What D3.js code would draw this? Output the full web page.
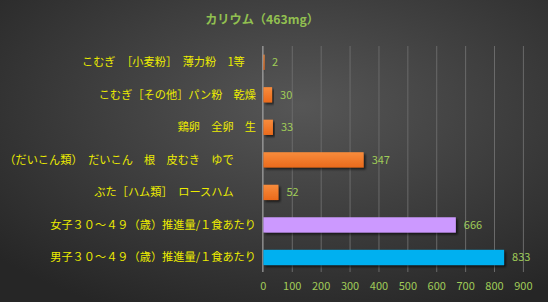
<!DOCTYPE html>
<html>
<head>
<meta charset="utf-8">
<script src="https://cdn.jsdelivr.net/npm/d3@7"></script>
<style>
  html, body { margin: 0; padding: 0; background: #2b2b2b; }
  svg { display: block; font-family: "Noto Sans CJK JP", "Noto Sans", sans-serif; }
</style>
</head>
<body>
<div id="chart"></div>
<script>
const width = 548,
   height = 302,
   margin = {top: 46, bottom: 30, left: 263.4, right: 24.6};

const title = 'カリウム（463mg）';
const categories = [
   'こむぎ　［小麦粉］　薄力粉　1等　',
   'こむぎ［その他］パン粉　乾燥',
   '鶏卵　全卵　生',
   '（だいこん類）　だいこん　根　皮むき　ゆで　　',
   'ぶた［ハム類］　ロースハム　　',
   '女子３０～４９（歳）推進量/１食あたり',
   '男子３０～４９（歳）推進量/１食あたり'
];
const values = [2, 30, 33, 347, 52, 666, 833];
const barKinds = ['food', 'food', 'food', 'food', 'food', 'female', 'male'];
const ticks = [0, 100, 200, 300, 400, 500, 600, 700, 800, 900];

const svg = d3.select('#chart')
   .append('svg')
   .attr('width', width)
   .attr('height', height);

const defs = svg.append('defs');

const bg = defs.append('radialGradient')
   .attr('id', 'bg')
   .attr('cx', '55%').attr('cy', '35%').attr('r', '75%');
bg.append('stop').attr('offset', '0%').attr('stop-color', '#565656');
bg.append('stop').attr('offset', '100%').attr('stop-color', '#262626');

const orange = defs.append('linearGradient')
   .attr('id', 'orange')
   .attr('x1', 0).attr('y1', 0).attr('x2', 0).attr('y2', 1);
orange.append('stop').attr('offset', '0%').attr('stop-color', '#f88c3c');
orange.append('stop').attr('offset', '100%').attr('stop-color', '#ea6a1c');

const shadow = defs.append('filter')
   .attr('id', 'shadow')
   .attr('x', '-10%').attr('y', '-30%').attr('width', '130%').attr('height', '180%');
shadow.append('feDropShadow')
   .attr('dx', 2).attr('dy', 2).attr('stdDeviation', 1)
   .attr('flood-color', '#000').attr('flood-opacity', 0.6);

svg.append('rect')
   .attr('width', width)
   .attr('height', height)
   .attr('fill', 'url(#bg)');

const x = d3.scaleLinear()
   .domain([0, 900])
   .range([margin.left, width - margin.right]);

const y = d3.scaleBand()
   .domain(categories)
   .range([margin.top, height - margin.bottom + 1.7])
   .paddingInner(0.53)
   .paddingOuter(0.265);

const colors = {food: 'url(#orange)', female: '#cc99ff', male: '#00b0f0'};

// gridlines
svg.append('g')
   .selectAll('line')
   .data(ticks.slice(1))
   .join('line')
   .attr('x1', d => x(d)).attr('x2', d => x(d))
   .attr('y1', margin.top).attr('y2', 272)
   .attr('stroke', '#6a6a6a')
   .attr('stroke-width', 1);

// zero axis line
svg.append('line')
   .attr('x1', x(0) - 0.5).attr('x2', x(0) - 0.5)
   .attr('y1', margin.top).attr('y2', 272)
   .attr('stroke', '#b8b8b8')
   .attr('stroke-width', 1);

// title
svg.append('text')
   .attr('x', 262)
   .attr('y', 24)
   .attr('text-anchor', 'middle')
   .attr('fill', '#92c050')
   .attr('font-size', 12.2)
   .attr('font-weight', 'bold')
   .text(title);

// bars
svg.append('g')
   .selectAll('rect')
   .data(values)
   .join('rect')
   .attr('x', x(0))
   .attr('y', (d, i) => y(categories[i]))
   .attr('width', d => Math.max(x(d) - x(0), 1.2))
   .attr('height', y.bandwidth())
   .attr('fill', (d, i) => colors[barKinds[i]])
   .attr('filter', 'url(#shadow)');

// value labels
svg.append('g')
   .selectAll('text')
   .data(values)
   .join('text')
   .attr('x', d => x(d) + 8)
   .attr('y', (d, i) => y(categories[i]) + y.bandwidth() / 2)
   .attr('dy', '0.35em')
   .attr('fill', '#a0cc58')
   .attr('font-size', 11)
   .text(d => d);

// category labels
svg.append('g')
   .selectAll('text')
   .data(categories)
   .join('text')
   .attr('x', 256)
   .attr('y', d => y(d) + y.bandwidth() / 2)
   .attr('dy', '0.35em')
   .attr('text-anchor', 'end')
   .attr('fill', '#ecec00')
   .attr('font-size', 11.2)
   .attr('xml:space', 'preserve')
   .style('white-space', 'pre')
   .text(d => d);

// x tick labels
svg.append('g')
   .selectAll('text')
   .data(ticks)
   .join('text')
   .attr('x', d => x(d))
   .attr('y', 286)
   .attr('dy', '0.35em')
   .attr('text-anchor', 'middle')
   .attr('fill', '#a0cc58')
   .attr('font-size', 11)
   .text(d => d);
</script>
</body>
</html>
